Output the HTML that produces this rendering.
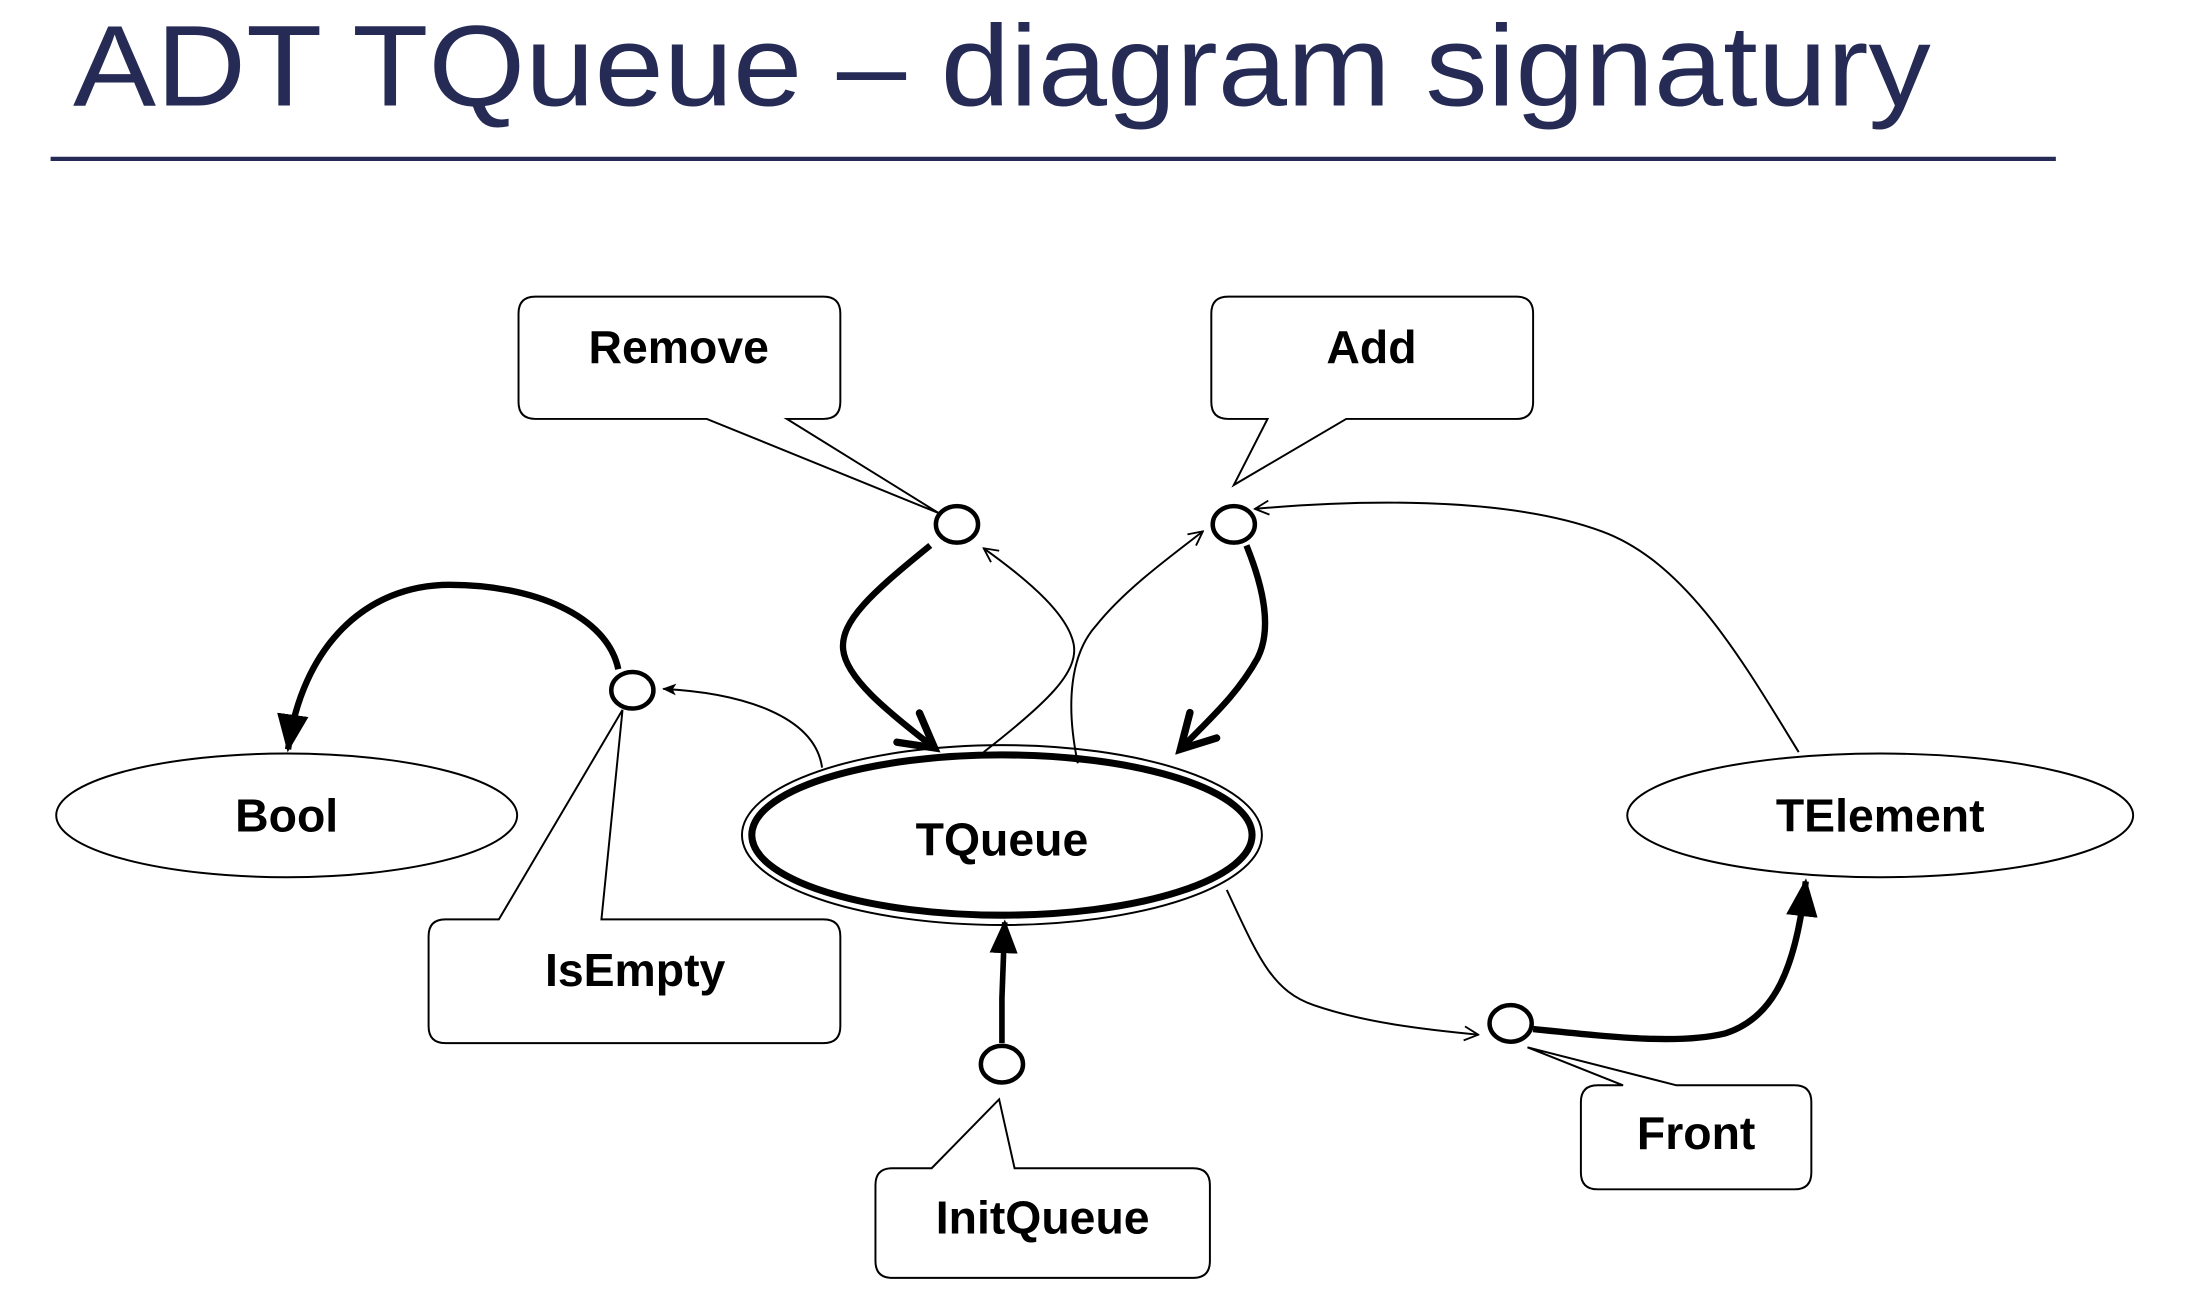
<!DOCTYPE html>
<html><head><meta charset="utf-8"><style>
html,body{margin:0;padding:0;background:#fff;}
svg{display:block;}
text{font-family:"Liberation Sans",sans-serif;}
.lbl{font-weight:bold;font-size:33px;text-anchor:middle;dominant-baseline:central;fill:#000;}
</style></head><body>
<svg width="2202" height="1306" viewBox="0 0 1567 929" preserveAspectRatio="none" xmlns="http://www.w3.org/2000/svg">
<defs>
<marker id="vo" viewBox="0 0 12 12" refX="11" refY="6" markerWidth="12" markerHeight="12" markerUnits="userSpaceOnUse" orient="auto">
<path d="M1,1 L11,6 L1,11" fill="none" stroke="#000" stroke-width="1.3"/></marker>
<marker id="vt" viewBox="0 0 12 12" refX="10" refY="6" markerWidth="7" markerHeight="7" orient="auto">
<path d="M1,1 L10,6 L1,11" fill="none" stroke="#000" stroke-width="2" stroke-linecap="round"/></marker>
<marker id="ft" viewBox="0 0 12 12" refX="11" refY="6" markerWidth="6" markerHeight="6" orient="auto">
<path d="M0,1 L12,6 L0,11 Z" fill="#000"/></marker>
<marker id="fs" viewBox="0 0 12 12" refX="11" refY="6" markerWidth="12" markerHeight="10" markerUnits="userSpaceOnUse" orient="auto">
<path d="M0,1 L12,6 L0,11 L3,6 Z" fill="#000"/></marker>
</defs>
<text x="52" y="75" font-size="82" fill="#262b55" textLength="1322" lengthAdjust="spacingAndGlyphs">ADT TQueue – diagram signatury</text>
<line x1="36" y1="113" x2="1463" y2="113" stroke="#262b55" stroke-width="3"/>

<g fill="#fff" stroke="#000" stroke-width="1.4">
<path d="M381,211 H586 Q598,211 598,223 V286 Q598,298 586,298 H560 L668,365 L503,298 H381 Q369,298 369,286 V223 Q369,211 381,211 Z"/>
<path d="M874,211 H1079 Q1091,211 1091,223 V286 Q1091,298 1079,298 H958 L878,345 L902,298 H874 Q862,298 862,286 V223 Q862,211 874,211 Z"/>
<path d="M317,654 H355 L443,505 L428,654 H586 Q598,654 598,666 V730 Q598,742 586,742 H317 Q305,742 305,730 V666 Q305,654 317,654 Z"/>
<path d="M635,831 H663 L711,782 L722,831 H849 Q861,831 861,843 V897 Q861,909 849,909 H635 Q623,909 623,897 V843 Q623,831 635,831 Z"/>
<path d="M1137,772 H1155 L1087,745 L1193,772 H1277 Q1289,772 1289,784 V834 Q1289,846 1277,846 H1137 Q1125,846 1125,834 V784 Q1125,772 1137,772 Z"/>
</g>
<text class="lbl" x="483" y="247">Remove</text>
<text class="lbl" x="976" y="247">Add</text>
<text class="lbl" x="452" y="690">IsEmpty</text>
<text class="lbl" x="742" y="866">InitQueue</text>
<text class="lbl" x="1207" y="806">Front</text>

<ellipse cx="204" cy="580" rx="164" ry="44" fill="#fff" stroke="#000" stroke-width="1.4"/>
<ellipse cx="1338" cy="580" rx="180" ry="44" fill="#fff" stroke="#000" stroke-width="1.4"/>
<ellipse cx="713" cy="594" rx="185" ry="64" fill="#fff" stroke="#000" stroke-width="1.4"/>
<ellipse cx="713" cy="594" rx="178" ry="57" fill="none" stroke="#000" stroke-width="5"/>
<text class="lbl" x="204" y="580">Bool</text>
<text class="lbl" x="1338" y="580">TElement</text>
<text class="lbl" x="713" y="597">TQueue</text>

<g fill="none" stroke="#000">
<path d="M662,388 C620,422 598,442 600,462 C602,482 630,505 665,532" stroke-width="4.5" marker-end="url(#vt)"/>
<path d="M700,535 C745,500 768,478 764,458 C760,438 735,415 700,390" stroke-width="1.4" marker-end="url(#vo)"/>
<path d="M767,543 C758,500 762,465 780,445 C800,420 830,398 856,378" stroke-width="1.4" marker-end="url(#vo)"/>
<path d="M887,388 C900,420 905,448 895,468 C880,495 860,512 840,533" stroke-width="4.5" marker-end="url(#vt)"/>
<path d="M1280,535 C1240,470 1200,400 1140,378 C1070,352 960,356 893,362" stroke-width="1.4" marker-end="url(#vo)"/>
<path d="M585,546 C580,510 530,493 472,490" stroke-width="1.4" marker-end="url(#fs)"/>
<path d="M440,476 C432,438 380,416 320,416 C260,416 215,460 205,533" stroke-width="4.5" marker-end="url(#ft)"/>
<path d="M713,742 L713,710 L715,656" stroke-width="4" marker-end="url(#ft)"/>
<path d="M873,633 C895,680 905,705 935,715 C970,727 1010,732 1052,736" stroke-width="1.4" marker-end="url(#vo)"/>
<path d="M1091,732 C1150,738 1195,743 1228,735 C1262,724 1278,690 1285,627" stroke-width="4.5" marker-end="url(#ft)"/>
</g>

<g fill="#fff" stroke="#000" stroke-width="3.2">
<ellipse cx="681" cy="373" rx="15" ry="13"/>
<ellipse cx="878" cy="373" rx="15" ry="13"/>
<ellipse cx="450" cy="491" rx="15" ry="13"/>
<ellipse cx="713" cy="757" rx="15" ry="13"/>
<ellipse cx="1075" cy="728" rx="15" ry="13"/>
</g>
</svg>
</body></html>
